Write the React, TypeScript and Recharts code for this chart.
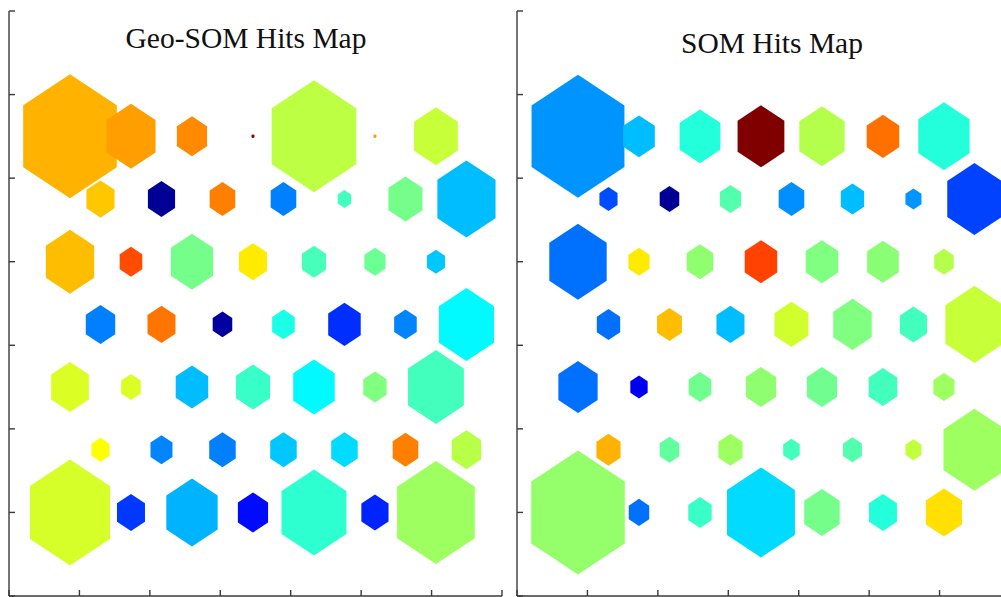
import React from 'react';
import { ScatterChart, Scatter, XAxis, YAxis, ZAxis } from 'recharts';

// Hits per neuron (rows top to bottom, columns left to right)
const geoHits = [
  [961, 264, 100, 1, 784, 1, 210],
  [87, 81, 72, 72, 20, 127, 371],
  [256, 56, 196, 86, 64, 49, 36],
  [95, 86, 42, 56, 116, 56, 333],
  [156, 42, 116, 127, 189, 60, 342],
  [36, 53, 77, 77, 77, 72, 95],
  [702, 86, 289, 100, 462, 81, 663],
];
// Colour value (0..1 on jet colormap)
const geoValue = [
  [0.70, 0.72, 0.74, 0.98, 0.56, 0.72, 0.57],
  [0.68, 0.02, 0.75, 0.25, 0.44, 0.49, 0.31],
  [0.69, 0.80, 0.49, 0.645, 0.445, 0.48, 0.32],
  [0.25, 0.76, 0.03, 0.40, 0.17, 0.255, 0.37],
  [0.59, 0.59, 0.31, 0.43, 0.37, 0.50, 0.44],
  [0.625, 0.255, 0.25, 0.32, 0.34, 0.75, 0.555],
  [0.585, 0.18, 0.30, 0.135, 0.42, 0.16, 0.53],
];
const somHits = [
  [946, 110, 182, 240, 225, 116, 289],
  [36, 42, 49, 72, 60, 28, 324],
  [361, 49, 77, 116, 116, 110, 42],
  [60, 68, 86, 127, 163, 81, 371],
  [169, 33, 56, 100, 100, 90, 49],
  [64, 42, 64, 30, 39, 28, 420],
  [961, 46, 60, 506, 138, 86, 144],
];
const somValue = [
  [0.27, 0.31, 0.41, 1.0, 0.55, 0.765, 0.41],
  [0.2, 0.02, 0.455, 0.265, 0.31, 0.27, 0.19],
  [0.235, 0.645, 0.515, 0.81, 0.50, 0.51, 0.55],
  [0.235, 0.69, 0.31, 0.58, 0.50, 0.44, 0.57],
  [0.235, 0.11, 0.485, 0.515, 0.485, 0.44, 0.53],
  [0.70, 0.47, 0.53, 0.44, 0.455, 0.565, 0.53],
  [0.52, 0.235, 0.43, 0.34, 0.49, 0.41, 0.655],
];
const axisTicks = [0, 1, 2, 3, 4, 5, 6, 7];
const titles = ['Geo-SOM Hits Map', 'SOM Hits Map'];

const MAX_HITS = 961;
const HEX_DX = Math.sqrt(3) / 2;
const HEX_DY = 0.75;

function jet(v: number) {
  const c = (x: number) => Math.round(255 * Math.max(0, Math.min(1, x)));
  const r = c(1.5 - Math.abs(4 * v - 3));
  const g = c(1.5 - Math.abs(4 * v - 2));
  const b = c(1.5 - Math.abs(4 * v - 1));
  return `rgb(${r},${g},${b})`;
}

function buildCells(hits: number[][], value: number[][]) {
  const out: { x: number; y: number; hits: number; value: number }[] = [];
  hits.forEach((row, r) =>
    row.forEach((h, c) => {
      out.push({
        x: HEX_DX * (1 + c + (r % 2 ? 0.5 : 0)),
        y: 1 + HEX_DY * (hits.length - 1 - r),
        hits: h,
        value: value[r][c],
      });
    })
  );
  return out;
}

const Hex = (props: any) => {
  const { cx, cy, width, payload } = props;
  if (cx == null || cy == null) return null;
  const h = (width || 0) / 2;
  const w = h * 0.755;
  const pts = [
    [cx, cy - h],
    [cx + w, cy - h / 2],
    [cx + w, cy + h / 2],
    [cx, cy + h],
    [cx - w, cy + h / 2],
    [cx - w, cy - h / 2],
  ]
    .map((p) => `${p[0]},${p[1]}`)
    .join(' ');
  return <polygon points={pts} fill={jet(payload.value)} stroke="none" />;
};

const NoLabel = () => <g />;

const AXIS = '#3a3a3a';

function Panel({ data, width }: { data: any[]; width: number }) {
  return (
    <ScatterChart
      width={width}
      height={597}
      margin={{ top: 11, right: width === 510 ? 8 : 0, bottom: 1, left: 9 }}
    >
      <XAxis
        type="number"
        dataKey="x"
        domain={[0, 7]}
        ticks={axisTicks}
        interval={0}
        tick={NoLabel}
        tickLine={{ stroke: AXIS, strokeWidth: 1.4 }}
        tickSize={6}
        mirror
        height={1}
        stroke={AXIS}
        strokeWidth={1.4}
      />
      <YAxis
        type="number"
        dataKey="y"
        domain={[0, 7]}
        ticks={axisTicks}
        interval={0}
        tick={NoLabel}
        tickLine={{ stroke: AXIS, strokeWidth: 1.4 }}
        tickSize={6}
        mirror
        width={1}
        stroke={AXIS}
        strokeWidth={1.4}
      />
      <ZAxis type="number" dataKey="hits" domain={[0, MAX_HITS]} range={[0, Math.PI * 3844]} />
      <Scatter data={data} shape={Hex} isAnimationActive={false} />
    </ScatterChart>
  );
}

export default function App() {
  const geo = buildCells(geoHits, geoValue);
  const som = buildCells(somHits, somValue);
  const titleStyle: React.CSSProperties = {
    position: 'absolute',
    fontFamily: '"Liberation Serif", "Times New Roman", serif',
    fontSize: 29.5,
    lineHeight: '29.5px',
    color: '#111',
    whiteSpace: 'nowrap',
    transform: 'translateX(-50%)',
  };
  return (
    <div
      style={{
        position: 'absolute',
        left: 0,
        top: 0,
        width: 1001,
        height: 597,
        overflow: 'hidden',
        background: '#fff',
      }}
    >
      <div style={{ position: 'absolute', left: 0, top: 0 }}>
        <Panel data={geo} width={510} />
      </div>
      <div style={{ position: 'absolute', left: 508, top: 0 }}>
        <Panel data={som} width={502} />
      </div>
      <div style={{ ...titleStyle, left: 246, top: 24 }}>{titles[0]}</div>
      <div style={{ ...titleStyle, left: 772, top: 29 }}>{titles[1]}</div>
    </div>
  );
}
